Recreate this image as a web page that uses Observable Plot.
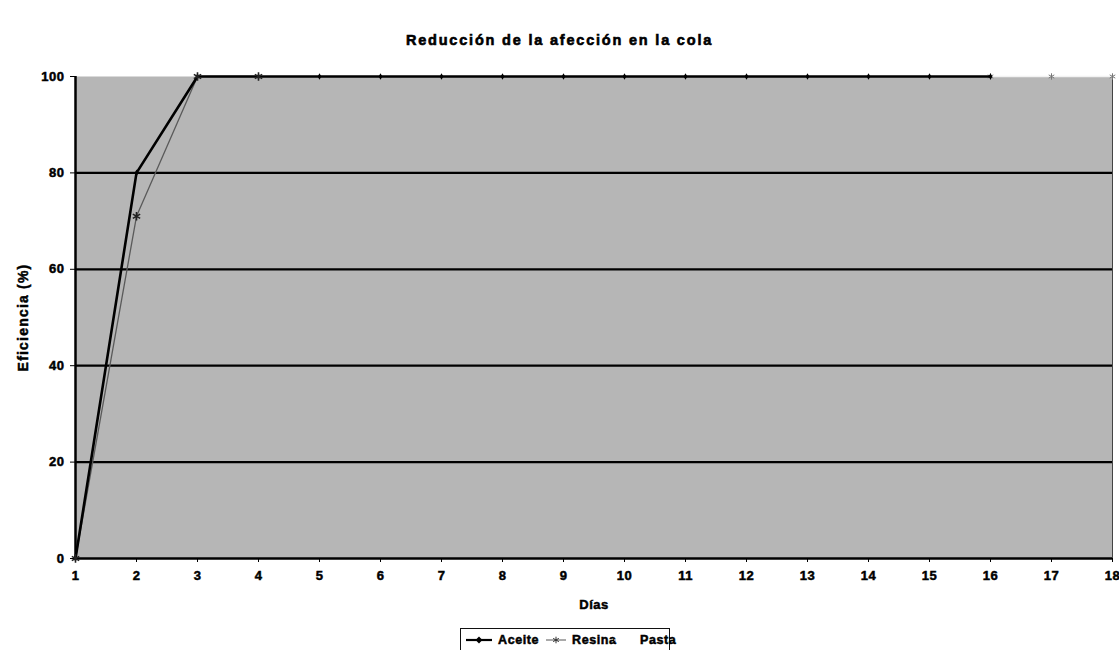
<!DOCTYPE html>
<html>
<head>
<meta charset="utf-8">
<script src="https://cdn.jsdelivr.net/npm/d3@7"></script>
<script src="https://cdn.jsdelivr.net/npm/@observablehq/plot@0.6"></script>
<style>
  body { margin: 0; background: #fff; font-family: "Liberation Sans", Arial, sans-serif; }
  #wrap { position: relative; width: 1119px; height: 650px; overflow: hidden; }
  #title { height: 58px; box-sizing: border-box; padding-top: 31px; text-align: center;
           font-weight: bold; font-size: 14.5px; letter-spacing: 1.8px; line-height: 18px; color: #000;
           -webkit-text-stroke: 0.6px #000; }
  #legend { position: absolute; left: 460px; top: 628px; width: 210px; height: 30px;
            border: 1.5px solid #111; box-sizing: border-box; font-weight: bold; font-size: 12.5px;
            letter-spacing: 0.6px; -webkit-text-stroke: 0.5px #000; }
  #legend .item { position: absolute; top: 4px; display: flex; align-items: center; gap: 5px; }
  #legend svg { display: block; }
  #chart svg text { stroke: #000; stroke-width: 0.5px; letter-spacing: 0.5px; }
  #chart svg g[aria-label="y-axis label"] text { font-size: 14px; letter-spacing: 1.2px; }
</style>
</head>
<body>
<div id="wrap">
  <div id="title">Reducción de la afección en la cola</div>
  <div id="chart"></div>
  <div id="legend"></div>
</div>
<script>
// Days on the x axis and the y ticks
const dias = d3.range(1, 19);
const yTicks = [0, 20, 40, 60, 80, 100];
const gridValues = [20, 40, 60, 80];

// Efficiency (%) per treatment
const aceiteDias = [1, 2, 3, 4, 5, 6, 7, 8, 9, 10, 11, 12, 13, 14, 15, 16];
const aceiteVals = [0, 80, 100, 100, 100, 100, 100, 100, 100, 100, 100, 100, 100, 100, 100, 100];
const resinaDias = [1, 2, 3, 4];
const resinaVals = [0, 71, 100, 100];
const pastaDias = [16, 17, 18];
const pastaVals = [100, 100, 100];

const seriesNames = ["Aceite", "Resina", "Pasta"];

const toRows = (xs, ys, name) => xs.map((x, i) => ({dia: x, valor: ys[i], serie: name}));
const aceite = toRows(aceiteDias, aceiteVals, "Aceite");
const resina = toRows(resinaDias, resinaVals, "Resina");
const pasta = toRows(pastaDias, pastaVals, "Pasta");

const fontCss = "bold 13px 'Liberation Sans', Arial, sans-serif";

const chart = Plot.plot({
  width: 1119,
  height: 562,
  marginTop: 18,
  marginLeft: 75,
  marginRight: 7,
  marginBottom: 62,
  style: {font: fontCss, color: "#000", background: "transparent", overflow: "visible"},
  x: {domain: [1, 18]},
  y: {domain: [0, 100]},
  marks: [
    Plot.frame({fill: "#b6b6b6", stroke: "none"}),
    Plot.ruleY(gridValues, {stroke: "#000", strokeWidth: 2.2}),
    Plot.ruleX([18], {stroke: "#444", strokeWidth: 1}),
    Plot.ruleX([1], {stroke: "#000", strokeWidth: 2.5}),
    Plot.ruleY([0], {stroke: "#000", strokeWidth: 2.5}),
    Plot.axisY({ticks: yTicks, tickSize: 5, tickPadding: 6, tickFormat: d3.format("d"),
                label: "Eficiencia (%)", labelAnchor: "center", labelOffset: 57, labelArrow: "none",
                fontWeight: "bold"}),
    Plot.axisX({ticks: dias, tickSize: 4, tickPadding: 8, tickFormat: d3.format("d"),
                label: "Días", labelAnchor: "center", labelOffset: 50, labelArrow: "none",
                fontWeight: "bold"}),
    Plot.line(pasta, {x: "dia", y: "valor", stroke: "#f2f2f2", strokeWidth: 1.5}),
    Plot.dot(pasta, {x: "dia", y: "valor", symbol: "asterisk", r: 3, stroke: "#777", strokeWidth: 1}),
    Plot.line(resina, {x: "dia", y: "valor", stroke: "#5a5a5a", strokeWidth: 1.3}),
    Plot.line(aceite, {x: "dia", y: "valor", stroke: "#000", strokeWidth: 2.6}),
    Plot.dot(aceite, {x: "dia", y: "valor", symbol: "diamond", r: 2, fill: "#000"}),
    Plot.dot(resina, {x: "dia", y: "valor", symbol: "asterisk", r: 4, stroke: "#222", strokeWidth: 1.6})
  ]
});
document.getElementById("chart").appendChild(chart);

// Legend below the chart
const legendStyles = {
  Aceite: {stroke: "#000", width: 2.2, symbol: d3.symbolDiamond2, fill: "#000", left: 4, swatch: 28},
  Resina: {stroke: "#555", width: 1, symbol: d3.symbolAsterisk, fill: "none", left: 84, swatch: 22},
  Pasta: {stroke: "#fff", width: 1, symbol: null, fill: "none", left: 152, swatch: 22}
};
const legend = document.getElementById("legend");
for (const name of seriesNames) {
  const s = legendStyles[name];
  const item = document.createElement("div");
  item.className = "item";
  item.style.left = s.left + "px";
  const sw = d3.create("svg").attr("width", s.swatch).attr("height", 14);
  sw.append("line").attr("x1", 1).attr("x2", s.swatch - 1).attr("y1", 7).attr("y2", 7)
    .attr("stroke", s.stroke).attr("stroke-width", s.width);
  if (s.symbol) {
    sw.append("path").attr("transform", `translate(${s.swatch / 2},7)`)
      .attr("d", d3.symbol(s.symbol, 30)())
      .attr("fill", s.fill).attr("stroke", s.fill === "none" ? "#333" : "none");
  }
  item.appendChild(sw.node());
  const label = document.createElement("span");
  label.textContent = name;
  item.appendChild(label);
  legend.appendChild(item);
}
</script>
</body>
</html>
